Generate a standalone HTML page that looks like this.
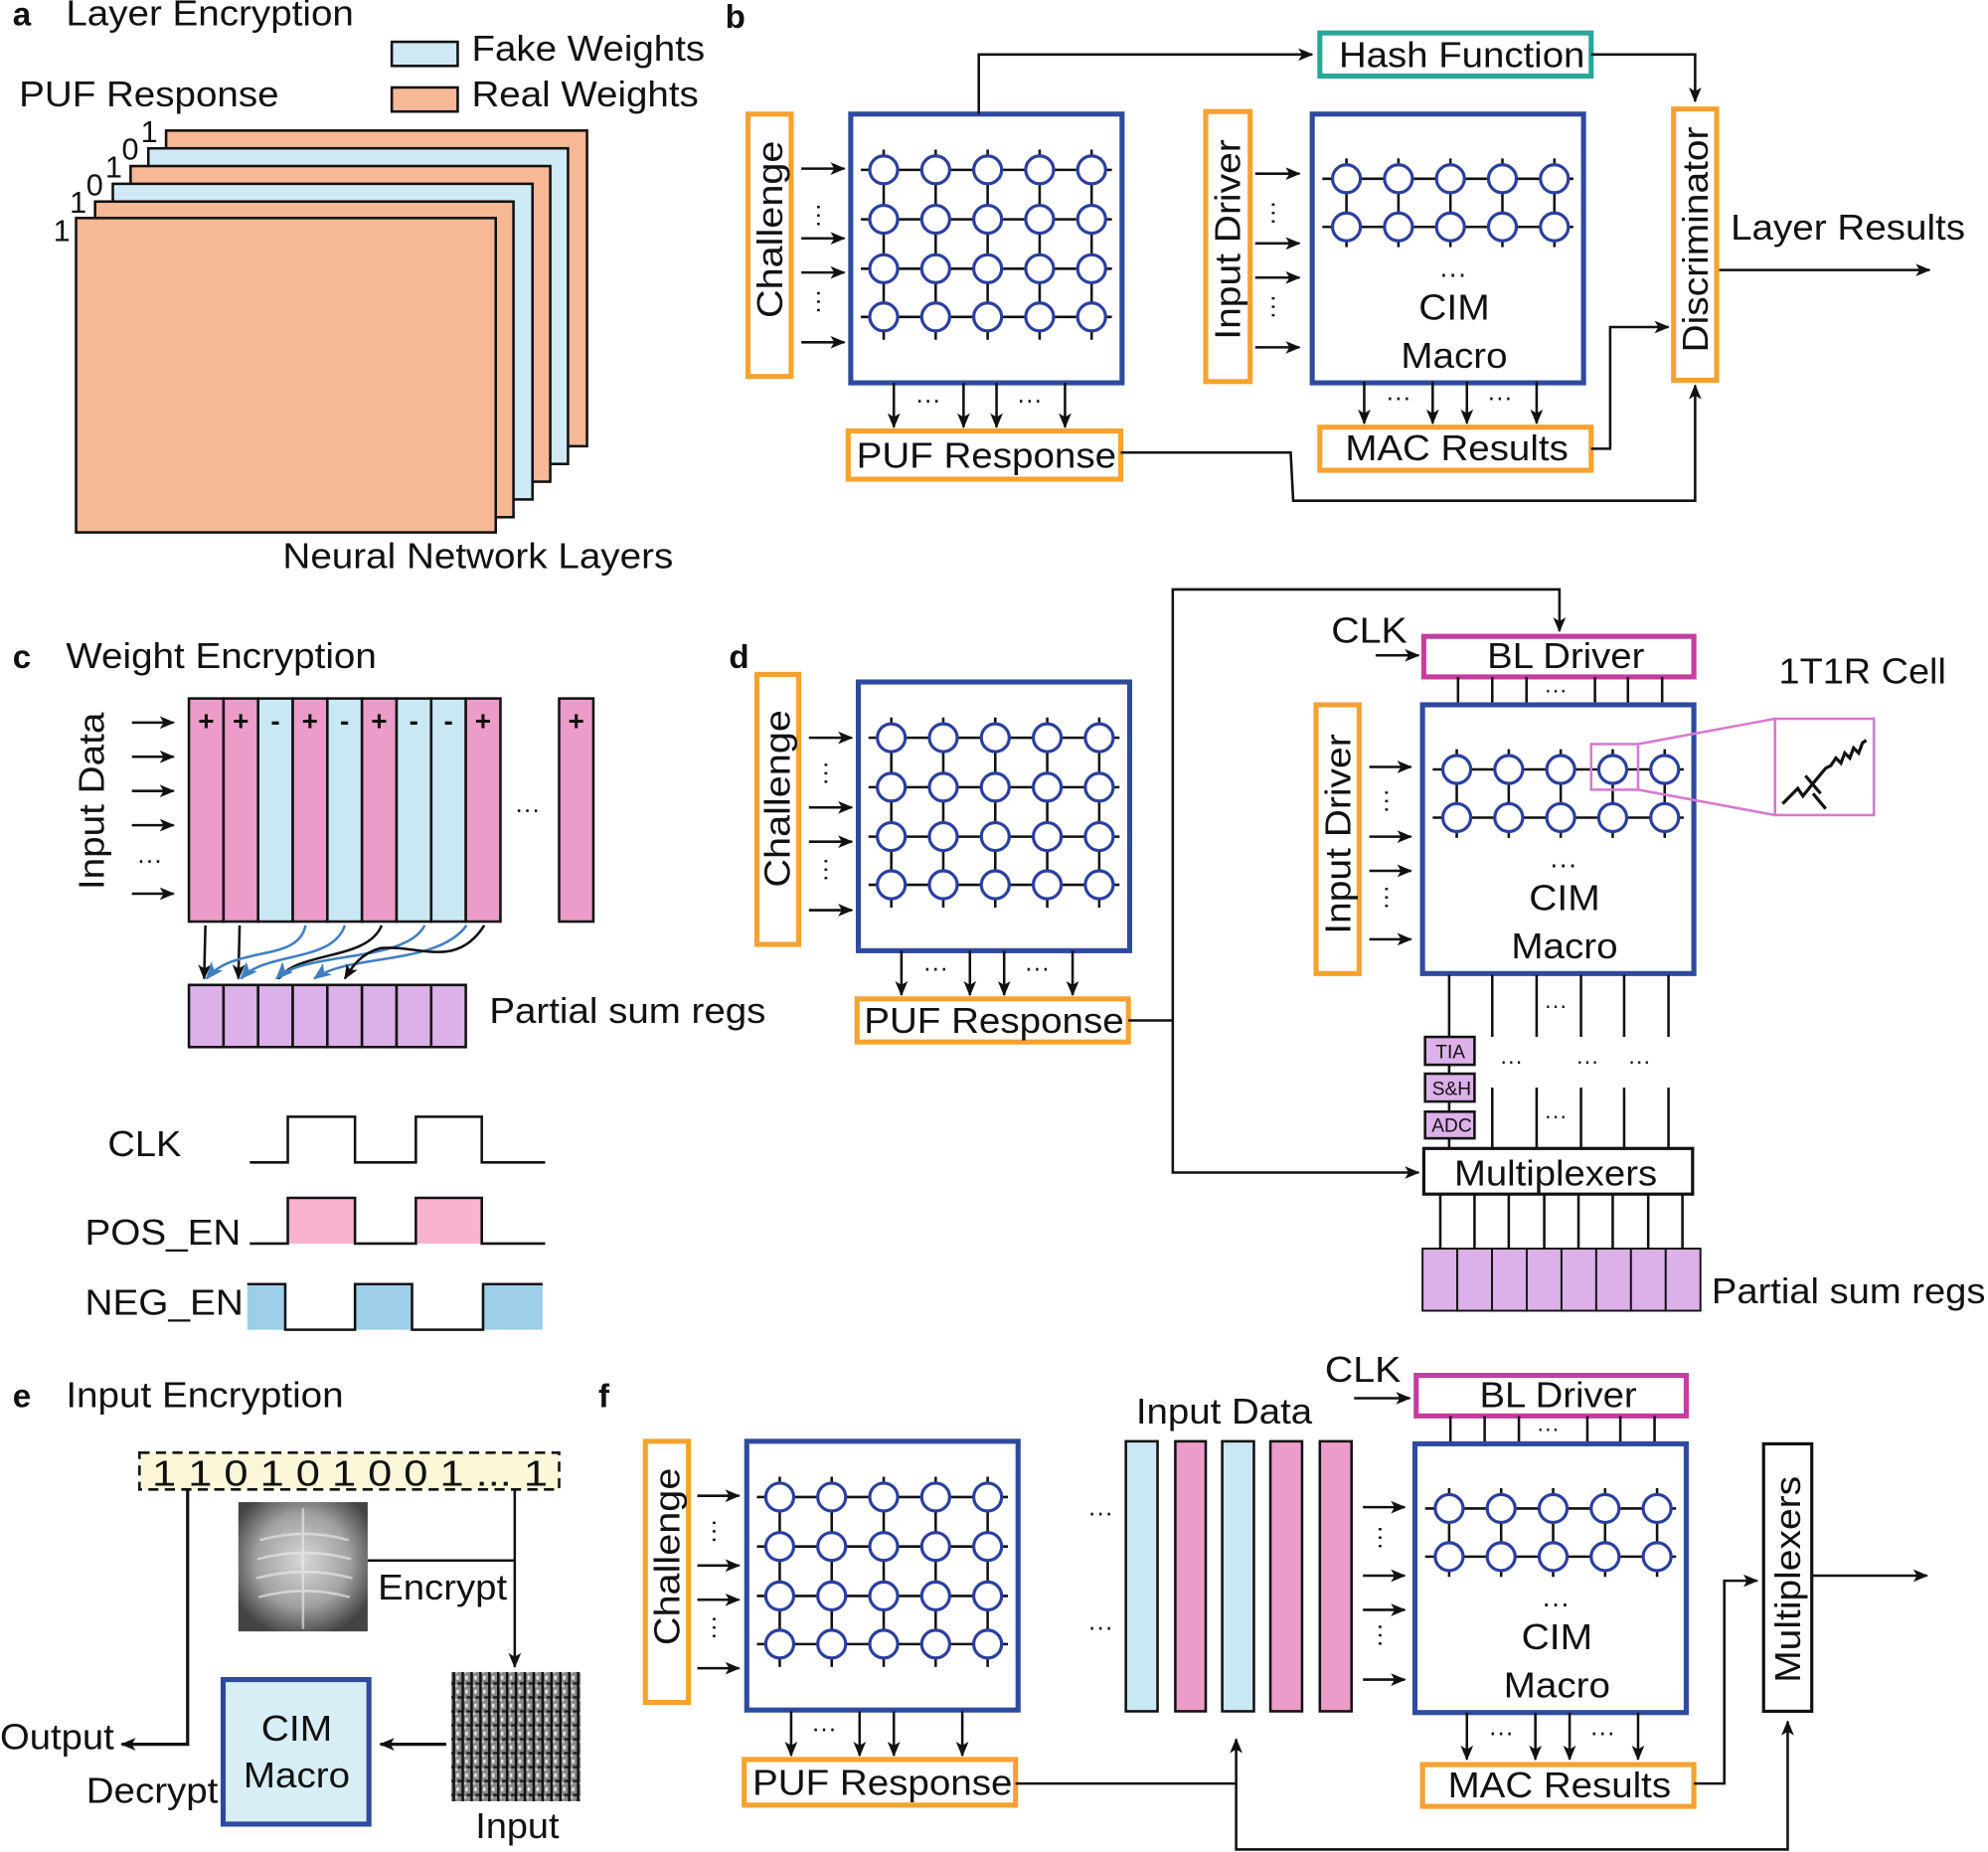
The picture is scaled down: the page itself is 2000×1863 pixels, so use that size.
<!DOCTYPE html>
<html><head><meta charset="utf-8"><style>
html,body{margin:0;padding:0;background:#fff;}
svg{display:block;}
text{font-family:"Liberation Sans",sans-serif;fill:#111;}
</style></head><body>
<svg width="2000" height="1863" viewBox="0 0 1568 1461" preserveAspectRatio="none" xmlns="http://www.w3.org/2000/svg">
<defs>
<marker id="ar" viewBox="0 0 12 10" refX="11" refY="5" markerWidth="12" markerHeight="10" markerUnits="userSpaceOnUse" orient="auto"><path d="M0,0 L12,5 L0,10 L3,5 z" fill="#111"/></marker>
<marker id="ab" viewBox="0 0 12 10" refX="11" refY="5" markerWidth="14" markerHeight="12" markerUnits="userSpaceOnUse" orient="auto"><path d="M0,0 L12,5 L0,10 L3,5 z" fill="#3f7fc4"/></marker>
<g id="puf">
<g stroke="#111" stroke-width="2">
<line x1="8" y1="44" x2="206" y2="44"/><line x1="8" y1="83" x2="206" y2="83"/><line x1="8" y1="122" x2="206" y2="122"/><line x1="8" y1="160" x2="206" y2="160"/>
<line x1="26" y1="28" x2="26" y2="178"/><line x1="67" y1="28" x2="67" y2="178"/><line x1="108" y1="28" x2="108" y2="178"/><line x1="149" y1="28" x2="149" y2="178"/><line x1="190" y1="28" x2="190" y2="178"/>
</g>
<g fill="#fff" stroke="#2b3fa0" stroke-width="2.5">
<circle cx="26" cy="44" r="11"/><circle cx="67" cy="44" r="11"/><circle cx="108" cy="44" r="11"/><circle cx="149" cy="44" r="11"/><circle cx="190" cy="44" r="11"/>
<circle cx="26" cy="83" r="11"/><circle cx="67" cy="83" r="11"/><circle cx="108" cy="83" r="11"/><circle cx="149" cy="83" r="11"/><circle cx="190" cy="83" r="11"/>
<circle cx="26" cy="122" r="11"/><circle cx="67" cy="122" r="11"/><circle cx="108" cy="122" r="11"/><circle cx="149" cy="122" r="11"/><circle cx="190" cy="122" r="11"/>
<circle cx="26" cy="160" r="11"/><circle cx="67" cy="160" r="11"/><circle cx="108" cy="160" r="11"/><circle cx="149" cy="160" r="11"/><circle cx="190" cy="160" r="11"/>
</g>
<rect x="0" y="0" width="214" height="212" fill="none" stroke="#2e4a9e" stroke-width="4"/>
</g>
<g id="cim">
<g stroke="#111" stroke-width="2">
<line x1="8" y1="51" x2="206" y2="51"/><line x1="8" y1="89" x2="206" y2="89"/>
<line x1="27" y1="35" x2="27" y2="105"/><line x1="68" y1="35" x2="68" y2="105"/><line x1="109" y1="35" x2="109" y2="105"/><line x1="150" y1="35" x2="150" y2="105"/><line x1="191" y1="35" x2="191" y2="105"/>
</g>
<g fill="#fff" stroke="#2b3fa0" stroke-width="2.5">
<circle cx="27" cy="51" r="11"/><circle cx="68" cy="51" r="11"/><circle cx="109" cy="51" r="11"/><circle cx="150" cy="51" r="11"/><circle cx="191" cy="51" r="11"/>
<circle cx="27" cy="89" r="11"/><circle cx="68" cy="89" r="11"/><circle cx="109" cy="89" r="11"/><circle cx="150" cy="89" r="11"/><circle cx="191" cy="89" r="11"/>
</g>
<rect x="0" y="0" width="214" height="212" fill="none" stroke="#2e4a9e" stroke-width="4"/>
<text x="100" y="133" font-size="22">···</text>
<text x="112" y="162" font-size="28" text-anchor="middle" textLength="56" lengthAdjust="spacingAndGlyphs">CIM</text>
<text x="112" y="200" font-size="28" text-anchor="middle" textLength="84" lengthAdjust="spacingAndGlyphs">Macro</text>
</g>
<pattern id="noise" width="7" height="11" patternUnits="userSpaceOnUse"><rect width="7" height="11" fill="#888"/><rect x="0" width="2" height="11" fill="#111"/><rect x="3" y="2" width="2" height="3" fill="#e8e8e8"/><rect x="4" y="7" width="3" height="2" fill="#222"/><rect x="2" y="9" width="2" height="2" fill="#ccc"/></pattern>
<radialGradient id="xr" cx="0.5" cy="0.45" r="0.6"><stop offset="0" stop-color="#d8d8d8"/><stop offset="0.6" stop-color="#a0a0a0"/><stop offset="1" stop-color="#444"/></radialGradient>
</defs>

<!-- ===== Panel a ===== -->
<text x="10" y="20" font-size="26" font-weight="bold">a</text>
<text x="52" y="20" font-size="28" textLength="227" lengthAdjust="spacingAndGlyphs">Layer Encryption</text>
<rect x="309" y="33" width="52" height="19" fill="#cfe9f5" stroke="#111" stroke-width="2"/>
<text x="372" y="48" font-size="28" textLength="184" lengthAdjust="spacingAndGlyphs">Fake Weights</text>
<rect x="309" y="69" width="52" height="19" fill="#f7b896" stroke="#111" stroke-width="2"/>
<text x="372" y="84" font-size="28" textLength="179" lengthAdjust="spacingAndGlyphs">Real Weights</text>
<text x="15" y="84" font-size="28" textLength="205" lengthAdjust="spacingAndGlyphs">PUF Response</text>
<g stroke="#111" stroke-width="2">
<rect x="131" y="103" width="332" height="249" fill="#f7b896"/>
<rect x="117" y="117" width="331" height="249" fill="#cfe9f5"/>
<rect x="103" y="131" width="331" height="249" fill="#f7b896"/>
<rect x="89" y="145" width="331" height="249" fill="#cfe9f5"/>
<rect x="75" y="159" width="330" height="249" fill="#f7b896"/>
<rect x="60" y="172" width="331" height="248" fill="#f7b896"/>
</g>
<text x="111" y="112" font-size="24">1</text>
<text x="96" y="126" font-size="24">0</text>
<text x="83" y="140" font-size="24">1</text>
<text x="68" y="154" font-size="24">0</text>
<text x="55" y="168" font-size="24">1</text>
<text x="42" y="190" font-size="24">1</text>
<text x="223" y="448" font-size="28" textLength="308" lengthAdjust="spacingAndGlyphs">Neural Network Layers</text>

<!-- ===== Panel b ===== -->
<text x="572" y="22" font-size="26" font-weight="bold">b</text>
<rect x="590" y="90" width="34" height="207" fill="none" stroke="#f5a230" stroke-width="4"/>
<text transform="translate(617,181) rotate(-90)" font-size="28" text-anchor="middle" textLength="140" lengthAdjust="spacingAndGlyphs">Challenge</text>
<g stroke="#111" stroke-width="2" marker-end="url(#ar)">
<line x1="632" y1="133" x2="666" y2="133"/><line x1="632" y1="188" x2="666" y2="188"/><line x1="632" y1="215" x2="666" y2="215"/><line x1="632" y1="270" x2="666" y2="270"/>
</g>
<text transform="translate(640,160) rotate(90)" font-size="20">···</text>
<text transform="translate(640,228) rotate(90)" font-size="20">···</text>
<use href="#puf" x="671" y="90"/>
<g stroke="#111" stroke-width="2" marker-end="url(#ar)">
<line x1="705" y1="302" x2="705" y2="337"/><line x1="760" y1="302" x2="760" y2="337"/><line x1="786" y1="302" x2="786" y2="337"/><line x1="840" y1="302" x2="840" y2="337"/>
</g>
<text x="722" y="322" font-size="20">···</text><text x="802" y="322" font-size="20">···</text>
<rect x="669" y="340" width="215" height="38" fill="none" stroke="#f5a230" stroke-width="4"/>
<text x="778" y="369" font-size="28" text-anchor="middle" textLength="205" lengthAdjust="spacingAndGlyphs">PUF Response</text>
<polyline points="772,90 772,43 1035,43" fill="none" stroke="#111" stroke-width="2" marker-end="url(#ar)"/>
<rect x="1041" y="26" width="214" height="34" fill="none" stroke="#27a79a" stroke-width="4"/>
<text x="1153" y="53" font-size="28" text-anchor="middle" textLength="194" lengthAdjust="spacingAndGlyphs">Hash Function</text>
<polyline points="1255,43 1337,43 1337,80" fill="none" stroke="#111" stroke-width="2" marker-end="url(#ar)"/>
<rect x="1320" y="86" width="34" height="214" fill="none" stroke="#f5a230" stroke-width="4"/>
<text transform="translate(1347,189) rotate(-90)" font-size="28" text-anchor="middle" textLength="178" lengthAdjust="spacingAndGlyphs">Discriminator</text>
<rect x="951" y="88" width="35" height="213" fill="none" stroke="#f5a230" stroke-width="4"/>
<text transform="translate(978,189) rotate(-90)" font-size="28" text-anchor="middle" textLength="158" lengthAdjust="spacingAndGlyphs">Input Driver</text>
<g stroke="#111" stroke-width="2" marker-end="url(#ar)">
<line x1="990" y1="137" x2="1025" y2="137"/><line x1="990" y1="192" x2="1025" y2="192"/><line x1="990" y1="219" x2="1025" y2="219"/><line x1="990" y1="274" x2="1025" y2="274"/>
</g>
<text transform="translate(999,158) rotate(90)" font-size="20">···</text>
<text transform="translate(999,232) rotate(90)" font-size="20">···</text>
<use href="#cim" x="1035" y="90"/>
<g stroke="#111" stroke-width="2" marker-end="url(#ar)">
<line x1="1076" y1="301" x2="1076" y2="334"/><line x1="1130" y1="301" x2="1130" y2="334"/><line x1="1157" y1="301" x2="1157" y2="334"/><line x1="1212" y1="301" x2="1212" y2="334"/>
</g>
<text x="1093" y="320" font-size="20">···</text><text x="1173" y="320" font-size="20">···</text>
<rect x="1041" y="337" width="214" height="34" fill="none" stroke="#f5a230" stroke-width="4"/>
<text x="1149" y="363" font-size="28" text-anchor="middle" textLength="176" lengthAdjust="spacingAndGlyphs">MAC Results</text>
<polyline points="1255,354 1270,354 1270,258 1316,258" fill="none" stroke="#111" stroke-width="2" marker-end="url(#ar)"/>
<polyline points="884,357 1018,357 1020,395 1337,395 1337,304" fill="none" stroke="#111" stroke-width="2" marker-end="url(#ar)"/>
<text x="1365" y="189" font-size="28" textLength="185" lengthAdjust="spacingAndGlyphs">Layer Results</text>
<line x1="1356" y1="213" x2="1522" y2="213" stroke="#111" stroke-width="2" marker-end="url(#ar)"/>

<!-- ===== Panel c ===== -->
<text x="10" y="527" font-size="26" font-weight="bold">c</text>
<text x="52" y="527" font-size="28" textLength="245" lengthAdjust="spacingAndGlyphs">Weight Encryption</text>
<text transform="translate(82,632) rotate(-90)" font-size="28" text-anchor="middle" textLength="140" lengthAdjust="spacingAndGlyphs">Input Data</text>
<g stroke="#111" stroke-width="2" marker-end="url(#ar)">
<line x1="104" y1="570" x2="137" y2="570"/><line x1="104" y1="597" x2="137" y2="597"/><line x1="104" y1="624" x2="137" y2="624"/><line x1="104" y1="651" x2="137" y2="651"/><line x1="104" y1="705" x2="137" y2="705"/>
</g>
<text x="108" y="685" font-size="20">···</text>
<g stroke="#111" stroke-width="2">
<rect x="149" y="551" width="27.3" height="176" fill="#ec9cc9"/>
<rect x="176.3" y="551" width="27.3" height="176" fill="#ec9cc9"/>
<rect x="203.6" y="551" width="27.3" height="176" fill="#c9e8f4"/>
<rect x="230.9" y="551" width="27.3" height="176" fill="#ec9cc9"/>
<rect x="258.2" y="551" width="27.3" height="176" fill="#c9e8f4"/>
<rect x="285.5" y="551" width="27.3" height="176" fill="#ec9cc9"/>
<rect x="312.8" y="551" width="27.3" height="176" fill="#c9e8f4"/>
<rect x="340.1" y="551" width="27.3" height="176" fill="#c9e8f4"/>
<rect x="367.4" y="551" width="27.3" height="176" fill="#ec9cc9"/>
<rect x="441" y="551" width="27" height="176" fill="#ec9cc9"/>
</g>
<g font-size="22" font-weight="bold" text-anchor="middle">
<text x="162.6" y="576">+</text><text x="189.9" y="576">+</text><text x="217.2" y="576">-</text><text x="244.5" y="576">+</text><text x="271.8" y="576">-</text><text x="299.1" y="576">+</text><text x="326.4" y="576">-</text><text x="353.7" y="576">-</text><text x="381" y="576">+</text><text x="454.5" y="576">+</text>
</g>
<text x="406" y="645" font-size="20">···</text>
<g fill="none" stroke-width="2">
<path d="M162,730 L161,772" stroke="#111" marker-end="url(#ar)"/>
<path d="M189,730 L188,772" stroke="#111" marker-end="url(#ar)"/>
<path d="M241,730 C235,760 185,745 163,772" stroke="#3f7fc4" marker-end="url(#ab)"/>
<path d="M272,730 C262,760 210,750 190,772" stroke="#3f7fc4" marker-end="url(#ab)"/>
<path d="M301,730 C290,758 235,750 220,772" stroke="#111" marker-end="url(#ar)"/>
<path d="M335,730 C320,760 240,750 218,772" stroke="#3f7fc4" marker-end="url(#ab)"/>
<path d="M368,730 C345,762 275,752 248,772" stroke="#3f7fc4" marker-end="url(#ab)"/>
<path d="M382,730 C360,765 330,745 300,748 C285,752 278,762 272,772" stroke="#111" marker-end="url(#ar)"/>
</g>
<g stroke="#111" stroke-width="2" fill="#dcb0e8">
<rect x="149" y="777" width="27.3" height="49"/><rect x="176.3" y="777" width="27.3" height="49"/><rect x="203.6" y="777" width="27.3" height="49"/><rect x="230.9" y="777" width="27.3" height="49"/><rect x="258.2" y="777" width="27.3" height="49"/><rect x="285.5" y="777" width="27.3" height="49"/><rect x="312.8" y="777" width="27.3" height="49"/><rect x="340.1" y="777" width="27.3" height="49"/>
</g>
<text x="386" y="807" font-size="28" textLength="218" lengthAdjust="spacingAndGlyphs">Partial sum regs</text>
<text x="85" y="912" font-size="28" textLength="58" lengthAdjust="spacingAndGlyphs">CLK</text>
<text x="67" y="982" font-size="28" textLength="123" lengthAdjust="spacingAndGlyphs">POS_EN</text>
<text x="67" y="1037" font-size="28" textLength="125" lengthAdjust="spacingAndGlyphs">NEG_EN</text>
<polyline points="197,917 227,917 227,881 280,881 280,917 328,917 328,881 380,881 380,917 430,917" fill="none" stroke="#111" stroke-width="2"/>
<rect x="227" y="945" width="53" height="36" fill="#f9b3cf"/><rect x="328" y="945" width="52" height="36" fill="#f9b3cf"/>
<polyline points="197,981 227,981 227,945 280,945 280,981 328,981 328,945 380,945 380,981 430,981" fill="none" stroke="#111" stroke-width="2"/>
<rect x="195" y="1013" width="30" height="36" fill="#9dcfeb"/><rect x="280" y="1013" width="45" height="36" fill="#9dcfeb"/><rect x="381" y="1013" width="47" height="36" fill="#9dcfeb"/>
<polyline points="195,1013 225,1013 225,1049 280,1049 280,1013 325,1013 325,1049 381,1049 381,1013 428,1013" fill="none" stroke="#111" stroke-width="2"/>

<!-- ===== Panel d ===== -->
<text x="575" y="527" font-size="26" font-weight="bold">d</text>
<rect x="597" y="532" width="33" height="213" fill="none" stroke="#f5a230" stroke-width="4"/>
<text transform="translate(623,630) rotate(-90)" font-size="28" text-anchor="middle" textLength="140" lengthAdjust="spacingAndGlyphs">Challenge</text>
<g stroke="#111" stroke-width="2" marker-end="url(#ar)">
<line x1="638" y1="582" x2="672" y2="582"/><line x1="638" y1="637" x2="672" y2="637"/><line x1="638" y1="664" x2="672" y2="664"/><line x1="638" y1="718" x2="672" y2="718"/>
</g>
<text transform="translate(646,600) rotate(90)" font-size="20">···</text>
<text transform="translate(646,676) rotate(90)" font-size="20">···</text>
<use href="#puf" x="677" y="538"/>
<g stroke="#111" stroke-width="2" marker-end="url(#ar)">
<line x1="711" y1="750" x2="711" y2="785"/><line x1="765" y1="750" x2="765" y2="785"/><line x1="792" y1="750" x2="792" y2="785"/><line x1="846" y1="750" x2="846" y2="785"/>
</g>
<text x="728" y="770" font-size="20">···</text><text x="808" y="770" font-size="20">···</text>
<rect x="676" y="788" width="214" height="34" fill="none" stroke="#f5a230" stroke-width="4"/>
<text x="784" y="815" font-size="28" text-anchor="middle" textLength="205" lengthAdjust="spacingAndGlyphs">PUF Response</text>
<polyline points="890,805 925,805 925,465 1230,465 1230,498" fill="none" stroke="#111" stroke-width="2" marker-end="url(#ar)"/>
<polyline points="925,805 925,925 1119,925" fill="none" stroke="#111" stroke-width="2" marker-end="url(#ar)"/>
<text x="1050" y="507" font-size="28" textLength="60" lengthAdjust="spacingAndGlyphs">CLK</text>
<line x1="1085" y1="517" x2="1119" y2="517" stroke="#111" stroke-width="2" marker-end="url(#ar)"/>
<rect x="1123" y="502" width="213" height="32" fill="none" stroke="#c53d9e" stroke-width="4"/>
<text x="1235" y="527" font-size="28" text-anchor="middle" textLength="124" lengthAdjust="spacingAndGlyphs">BL Driver</text>
<g stroke="#111" stroke-width="2">
<line x1="1150" y1="534" x2="1150" y2="556"/><line x1="1177" y1="534" x2="1177" y2="556"/><line x1="1204" y1="534" x2="1204" y2="556"/><line x1="1258" y1="534" x2="1258" y2="556"/><line x1="1284" y1="534" x2="1284" y2="556"/><line x1="1311" y1="534" x2="1311" y2="556"/>
</g>
<text x="1218" y="550" font-size="18">···</text>
<rect x="1038" y="556" width="34" height="212" fill="none" stroke="#f5a230" stroke-width="4"/>
<text transform="translate(1065,658) rotate(-90)" font-size="28" text-anchor="middle" textLength="158" lengthAdjust="spacingAndGlyphs">Input Driver</text>
<g stroke="#111" stroke-width="2" marker-end="url(#ar)">
<line x1="1080" y1="605" x2="1113" y2="605"/><line x1="1080" y1="660" x2="1113" y2="660"/><line x1="1080" y1="687" x2="1113" y2="687"/><line x1="1080" y1="741" x2="1113" y2="741"/>
</g>
<text transform="translate(1088,622) rotate(90)" font-size="20">···</text>
<text transform="translate(1088,698) rotate(90)" font-size="20">···</text>
<use href="#cim" x="1122" y="556"/>
<rect x="1255" y="587" width="37" height="36" fill="none" stroke="#d679cf" stroke-width="2"/>
<line x1="1292" y1="587" x2="1400" y2="567" stroke="#d679cf" stroke-width="2"/>
<line x1="1292" y1="623" x2="1400" y2="643" stroke="#d679cf" stroke-width="2"/>
<rect x="1400" y="567" width="78" height="76" fill="#fff" stroke="#d679cf" stroke-width="2"/>
<g fill="none" stroke="#111" stroke-width="2.5">
<polyline points="1406,634 1418,622 1422,628 1430,618"/>
<line x1="1424" y1="612" x2="1436" y2="626"/>
<line x1="1430" y1="626" x2="1440" y2="638"/>
<polyline points="1430,618 1440,606 1444,604 1448,598 1452,602 1455,594 1459,598 1462,590 1466,594 1469,586 1472,584"/>
</g>
<text x="1403" y="539" font-size="28" textLength="132" lengthAdjust="spacingAndGlyphs">1T1R Cell</text>
<g stroke="#111" stroke-width="2">
<line x1="1143" y1="769" x2="1143" y2="905"/>
<line x1="1177" y1="769" x2="1177" y2="818"/><line x1="1212" y1="769" x2="1212" y2="818"/><line x1="1247" y1="769" x2="1247" y2="818"/><line x1="1281" y1="769" x2="1281" y2="818"/><line x1="1316" y1="769" x2="1316" y2="818"/>
<line x1="1177" y1="858" x2="1177" y2="905"/><line x1="1212" y1="858" x2="1212" y2="905"/><line x1="1247" y1="858" x2="1247" y2="905"/><line x1="1281" y1="858" x2="1281" y2="905"/><line x1="1316" y1="858" x2="1316" y2="905"/>
</g>
<text x="1218" y="799" font-size="18">···</text>
<text x="1183" y="843" font-size="18">···</text><text x="1243" y="843" font-size="18">···</text><text x="1284" y="843" font-size="18">···</text>
<text x="1218" y="886" font-size="18">···</text>
<g stroke="#111" stroke-width="2" fill="#dcb0e8">
<rect x="1124" y="818" width="39" height="22"/><rect x="1124" y="847" width="39" height="22"/><rect x="1124" y="877" width="39" height="21"/>
</g>
<text x="1144" y="835" font-size="15" text-anchor="middle">TIA</text>
<text x="1145" y="864" font-size="15" text-anchor="middle">S&amp;H</text>
<text x="1145" y="893" font-size="15" text-anchor="middle">ADC</text>
<rect x="1123" y="906" width="212" height="36" fill="#fff" stroke="#111" stroke-width="2.5"/>
<text x="1227" y="935" font-size="28" text-anchor="middle" textLength="160" lengthAdjust="spacingAndGlyphs">Multiplexers</text>
<g stroke="#111" stroke-width="2">
<line x1="1136" y1="942" x2="1136" y2="985"/><line x1="1163" y1="942" x2="1163" y2="985"/><line x1="1190" y1="942" x2="1190" y2="985"/><line x1="1218" y1="942" x2="1218" y2="985"/><line x1="1245" y1="942" x2="1245" y2="985"/><line x1="1272" y1="942" x2="1272" y2="985"/><line x1="1300" y1="942" x2="1300" y2="985"/><line x1="1327" y1="942" x2="1327" y2="985"/>
</g>
<g stroke="#111" stroke-width="1.5" fill="#dcb0e8">
<rect x="1122" y="985" width="27.4" height="49"/><rect x="1149.4" y="985" width="27.4" height="49"/><rect x="1176.8" y="985" width="27.4" height="49"/><rect x="1204.2" y="985" width="27.4" height="49"/><rect x="1231.6" y="985" width="27.4" height="49"/><rect x="1259" y="985" width="27.4" height="49"/><rect x="1286.4" y="985" width="27.4" height="49"/><rect x="1313.8" y="985" width="27.4" height="49"/>
</g>
<text x="1350" y="1028" font-size="28" textLength="216" lengthAdjust="spacingAndGlyphs">Partial sum regs</text>

<!-- ===== Panel e ===== -->
<text x="10" y="1110" font-size="26" font-weight="bold">e</text>
<text x="52" y="1110" font-size="28" textLength="219" lengthAdjust="spacingAndGlyphs">Input Encryption</text>
<rect x="110" y="1146" width="331" height="29" fill="#fbf7d8" stroke="#111" stroke-width="2" stroke-dasharray="8,5"/>
<text x="120" y="1172" font-size="28" textLength="312" lengthAdjust="spacingAndGlyphs">1 1 0 1 0 1 0 0 1 ... 1</text>
<rect x="188" y="1185" width="102" height="102" fill="url(#xr)"/>
<g stroke="#eee" stroke-width="2" opacity="0.6" fill="none">
<path d="M205,1215 q35,-10 70,0"/><path d="M203,1230 q37,-10 74,0"/><path d="M202,1245 q38,-10 76,0"/><path d="M204,1260 q36,-10 72,0"/><line x1="239" y1="1190" x2="239" y2="1285"/>
</g>
<text x="298" y="1262" font-size="28" textLength="102" lengthAdjust="spacingAndGlyphs">Encrypt</text>
<polyline points="290,1231 406,1231" fill="none" stroke="#111" stroke-width="2"/>
<line x1="406" y1="1175" x2="406" y2="1315" stroke="#111" stroke-width="2" marker-end="url(#ar)"/>
<rect x="356" y="1319" width="102" height="102" fill="url(#noise)"/>
<line x1="352" y1="1376" x2="300" y2="1376" stroke="#111" stroke-width="2.5" marker-end="url(#ar)"/>
<rect x="176" y="1325" width="115" height="114" fill="#d6eef4" stroke="#2e4a9e" stroke-width="4"/>
<text x="234" y="1373" font-size="28" text-anchor="middle" textLength="56" lengthAdjust="spacingAndGlyphs">CIM</text>
<text x="234" y="1410" font-size="28" text-anchor="middle" textLength="84" lengthAdjust="spacingAndGlyphs">Macro</text>
<polyline points="148,1175 148,1376 96,1376" fill="none" stroke="#111" stroke-width="2.5" marker-end="url(#ar)"/>
<text x="0" y="1380" font-size="28" textLength="90" lengthAdjust="spacingAndGlyphs">Output</text>
<text x="68" y="1422" font-size="28" textLength="104" lengthAdjust="spacingAndGlyphs">Decrypt</text>
<text x="375" y="1450" font-size="28" textLength="66" lengthAdjust="spacingAndGlyphs">Input</text>

<!-- ===== Panel f ===== -->
<text x="472" y="1110" font-size="26" font-weight="bold">f</text>
<rect x="509" y="1137" width="34" height="206" fill="none" stroke="#f5a230" stroke-width="4"/>
<text transform="translate(536,1228) rotate(-90)" font-size="28" text-anchor="middle" textLength="140" lengthAdjust="spacingAndGlyphs">Challenge</text>
<g stroke="#111" stroke-width="2" marker-end="url(#ar)">
<line x1="550" y1="1180" x2="583" y2="1180"/><line x1="550" y1="1235" x2="583" y2="1235"/><line x1="550" y1="1262" x2="583" y2="1262"/><line x1="550" y1="1316" x2="583" y2="1316"/>
</g>
<text transform="translate(558,1198) rotate(90)" font-size="20">···</text>
<text transform="translate(558,1274) rotate(90)" font-size="20">···</text>
<use href="#puf" x="589" y="1137"/>
<g stroke="#111" stroke-width="2" marker-end="url(#ar)">
<line x1="624" y1="1350" x2="624" y2="1385"/><line x1="678" y1="1350" x2="678" y2="1385"/><line x1="705" y1="1350" x2="705" y2="1385"/><line x1="759" y1="1350" x2="759" y2="1385"/>
</g>
<text x="640" y="1370" font-size="20">···</text>
<rect x="587" y="1388" width="214" height="36" fill="none" stroke="#f5a230" stroke-width="4"/>
<text x="696" y="1416" font-size="28" text-anchor="middle" textLength="205" lengthAdjust="spacingAndGlyphs">PUF Response</text>
<polyline points="801,1407 975,1407 975,1372" fill="none" stroke="#111" stroke-width="2" marker-end="url(#ar)"/>
<polyline points="975,1407 975,1459 1410,1459 1410,1358" fill="none" stroke="#111" stroke-width="2" marker-end="url(#ar)"/>
<text x="896" y="1123" font-size="28" textLength="139" lengthAdjust="spacingAndGlyphs">Input Data</text>
<g stroke="#111" stroke-width="2">
<rect x="888" y="1137" width="25" height="213" fill="#c9e8f4"/>
<rect x="927" y="1137" width="24" height="213" fill="#ec9cc9"/>
<rect x="964" y="1137" width="25" height="213" fill="#c9e8f4"/>
<rect x="1002" y="1137" width="25" height="213" fill="#ec9cc9"/>
<rect x="1041" y="1137" width="25" height="213" fill="#ec9cc9"/>
</g>
<text x="858" y="1200" font-size="20">···</text><text x="858" y="1290" font-size="20">···</text>
<g stroke="#111" stroke-width="2" marker-end="url(#ar)">
<line x1="1075" y1="1189" x2="1108" y2="1189"/><line x1="1075" y1="1243" x2="1108" y2="1243"/><line x1="1075" y1="1270" x2="1108" y2="1270"/><line x1="1075" y1="1325" x2="1108" y2="1325"/>
</g>
<text transform="translate(1083,1203) rotate(90)" font-size="20">···</text>
<text transform="translate(1083,1280) rotate(90)" font-size="20">···</text>
<text x="1045" y="1090" font-size="28" textLength="60" lengthAdjust="spacingAndGlyphs">CLK</text>
<line x1="1068" y1="1103" x2="1112" y2="1103" stroke="#111" stroke-width="2" marker-end="url(#ar)"/>
<rect x="1117" y="1085" width="213" height="32" fill="none" stroke="#c53d9e" stroke-width="4"/>
<text x="1229" y="1110" font-size="28" text-anchor="middle" textLength="124" lengthAdjust="spacingAndGlyphs">BL Driver</text>
<g stroke="#111" stroke-width="2">
<line x1="1144" y1="1117" x2="1144" y2="1139"/><line x1="1171" y1="1117" x2="1171" y2="1139"/><line x1="1198" y1="1117" x2="1198" y2="1139"/><line x1="1252" y1="1117" x2="1252" y2="1139"/><line x1="1278" y1="1117" x2="1278" y2="1139"/><line x1="1305" y1="1117" x2="1305" y2="1139"/>
</g>
<text x="1212" y="1133" font-size="18">···</text>
<use href="#cim" x="1116" y="1139"/>
<g stroke="#111" stroke-width="2" marker-end="url(#ar)">
<line x1="1157" y1="1351" x2="1157" y2="1388"/><line x1="1211" y1="1351" x2="1211" y2="1388"/><line x1="1238" y1="1351" x2="1238" y2="1388"/><line x1="1292" y1="1351" x2="1292" y2="1388"/>
</g>
<text x="1174" y="1373" font-size="20">···</text><text x="1254" y="1373" font-size="20">···</text>
<rect x="1122" y="1392" width="214" height="33" fill="none" stroke="#f5a230" stroke-width="4"/>
<text x="1230" y="1418" font-size="28" text-anchor="middle" textLength="176" lengthAdjust="spacingAndGlyphs">MAC Results</text>
<polyline points="1336,1407 1360,1407 1360,1247 1386,1247" fill="none" stroke="#111" stroke-width="2" marker-end="url(#ar)"/>
<rect x="1391" y="1139" width="38" height="211" fill="#fff" stroke="#111" stroke-width="2.5"/>
<text transform="translate(1420,1246) rotate(-90)" font-size="28" text-anchor="middle" textLength="163" lengthAdjust="spacingAndGlyphs">Multiplexers</text>
<line x1="1429" y1="1243" x2="1520" y2="1243" stroke="#111" stroke-width="2" marker-end="url(#ar)"/>
</svg>
</body></html>
